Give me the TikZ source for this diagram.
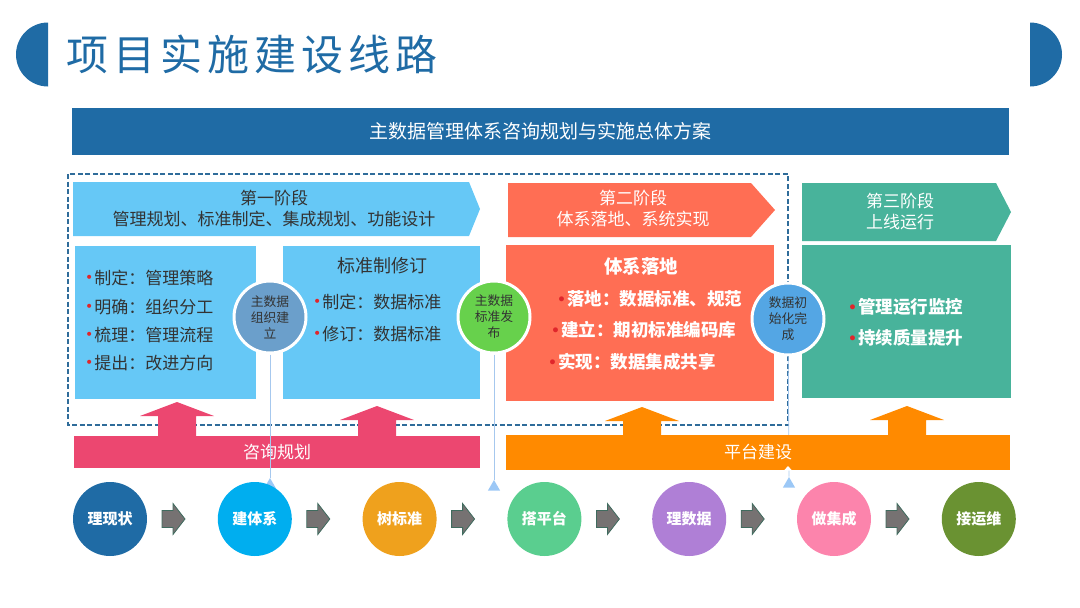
\documentclass[tikz,border=0pt]{standalone}
\usepackage{fontspec}
\setmainfont{Noto Sans CJK SC}
\newfontfamily\dotfont{DejaVu Sans}
\usepackage{tikz}
\usetikzlibrary{
    shapes.geometric,
    calc
}
\definecolor{titleblue}{HTML}{1F6BA5}
\definecolor{skyblue}{HTML}{66C8F6}
\definecolor{coral}{HTML}{FF6E54}
\definecolor{teal}{HTML}{48B39B}
\definecolor{ringa}{HTML}{6B9FCB}
\definecolor{ringb}{HTML}{67D14C}
\definecolor{ringc}{HTML}{54A6E4}
\definecolor{pinkbar}{HTML}{EC4770}
\definecolor{orangebar}{HTML}{FF8A00}
\definecolor{dashblue}{HTML}{2F6C9A}
\definecolor{guideblue}{HTML}{A6C8EE}
\definecolor{tipblue}{HTML}{9CC8F6}
\definecolor{textgray}{HTML}{333333}
\definecolor{dotred}{HTML}{E0262B}
\definecolor{arrowgray}{HTML}{767272}
\definecolor{arrowedge}{HTML}{3F6B5E}
\definecolor{stepa}{HTML}{1F6BA5}
\definecolor{stepb}{HTML}{00AEEF}
\definecolor{stepc}{HTML}{EFA11D}
\definecolor{stepd}{HTML}{5ACE8F}
\definecolor{stepe}{HTML}{AF7FD6}
\definecolor{stepf}{HTML}{FC84AC}
\definecolor{stepg}{HTML}{6A9232}
\newcommand{\rdot}{\raisebox{1.5pt}{\dotfont\fontsize{14}{14}\selectfont\textcolor{dotred}{•}}\hspace{1pt}}
\tikzstyle{ring} = [
    circle,
    draw=white,
    line width=3pt,
    minimum size=72pt,
    inner sep=0pt,
    text=textgray,
    align=center,
    font=\fontsize{12.8}{16}\selectfont
]
\tikzstyle{stepnode} = [
    circle,
    minimum size=74pt,
    inner sep=0pt,
    text=white,
    font=\fontsize{15}{18}\selectfont\bfseries
]
\tikzstyle{item} = [
    anchor=west,
    inner sep=0pt,
    text=textgray,
    font=\fontsize{17}{20}\selectfont
]
\tikzstyle{bolditem} = [
    anchor=west,
    inner sep=0pt,
    text=white,
    font=\fontsize{17.5}{20}\selectfont\bfseries
]
\tikzstyle{phasetext} = [
    align=center,
    inner sep=0pt,
    font=\fontsize{17}{21}\selectfont
]
\tikzstyle{bartext} = [
    inner sep=0pt,
    text=white,
    font=\fontsize{17}{20}\selectfont
]
\tikzstyle{tipmark} = [
    regular polygon,
    regular polygon sides=3,
    minimum size=14pt,
    inner sep=0pt,
    fill=tipblue
]
\tikzstyle{guide} = [
    draw=guideblue,
    line width=0.8pt
]
\tikzstyle{graystep} = [
    fill=arrowgray,
    draw=arrowedge,
    line width=0.8pt
]

\begin{document}
\begin{tikzpicture}[x=1pt, y=-1pt]
        \useasboundingbox (0,0) rectangle (1080,608);

        % Title
        \fill[titleblue] (48,22.5) arc[start angle=-90, end angle=-270, radius=32] -- cycle;
        \fill[titleblue] (1030,22.5) arc[start angle=-90, end angle=90, radius=32] -- cycle;
        \node[anchor=west, inner sep=0pt, text=titleblue,
              font=\fontsize{42}{42}\selectfont\addfontfeatures{LetterSpace=12}] (title) at (66,54) {项目实施建设线路};

        % Banner
        \fill[titleblue] (72,108) rectangle (1009,155);
        \node[bartext, font=\fontsize{19}{20}\selectfont] (banner) at (540,131) {主数据管理体系咨询规划与实施总体方案};

        % Dashed frame
        \draw[dashblue, line width=1.6pt, dash pattern=on 5pt off 2.5pt] (68,174) rectangle (788,425);

        % Phases
        \fill[skyblue] (73,182) -- (469,182) -- (480,209) -- (469,236) -- (73,236) -- cycle;
        \node[phasetext, text=textgray] (ph1) at (274,209) {第一阶段\\管理规划、标准制定、集成规划、功能设计};
        \fill[coral] (508,183) -- (751,183) -- (775,210) -- (751,237) -- (508,237) -- cycle;
        \node[phasetext, text=white] (ph2) at (633,209) {第二阶段\\体系落地、系统实现};
        \fill[teal] (802,183) -- (996,183) -- (1011,212) -- (996,241) -- (802,241) -- cycle;
        \node[phasetext, text=white] (ph3) at (900,212) {第三阶段\\上线运行};

        % Boxes
        \fill[skyblue] (75,246) rectangle (256,399);
        \node[item] (a1) at (85,278) {\rdot 制定：管理策略};
        \node[item] (a2) at (85,307) {\rdot 明确：组织分工};
        \node[item] (a3) at (85,335) {\rdot 梳理：管理流程};
        \node[item] (a4) at (85,363) {\rdot 提出：改进方向};

        \fill[skyblue] (283,246) rectangle (480,399);
        \node[inner sep=0pt, text=textgray, font=\fontsize{18}{20}\selectfont] (btitle) at (382,266) {标准制修订};
        \node[item] (b1) at (313,302) {\rdot 制定：数据标准};
        \node[item] (b2) at (313,334) {\rdot 修订：数据标准};

        \fill[coral] (506,245) rectangle (774,401);
        \node[inner sep=0pt, text=white, font=\fontsize{18.5}{20}\selectfont\bfseries] (ctitle) at (641,266) {体系落地};
        \node[bolditem] (c1) at (557,299) {\rdot 落地：数据标准、规范};
        \node[bolditem] (c2) at (551,330) {\rdot 建立：期初标准编码库};
        \node[bolditem] (c3) at (548,362) {\rdot 实现：数据集成共享};

        \fill[teal] (802,245) rectangle (1011,398);
        \node[bolditem] (d1) at (848,307) {\rdot 管理运行监控};
        \node[bolditem] (d2) at (848,338) {\rdot 持续质量提升};

        % Up arrows
        \foreach \cx/\ty/\col in {177/402/pinkbar, 377/406/pinkbar, 642/407/orangebar, 907/406/orangebar}
            \fill[\col] (\cx-37,\ty+14) -- (\cx,\ty) -- (\cx+37,\ty+14) -- (\cx+19,\ty+14)
                -- (\cx+19,436) -- (\cx-19,436) -- (\cx-19,\ty+14) -- cycle;

        % Milestones
        \node[ring, fill=ringa] (ma) at (270,317) {主数据\\组织建\\立};
        \node[ring, fill=ringb] (mb) at (494,317) {主数据\\标准发\\布};
        \node[ring, fill=ringc] (mc) at (788,319) {数据初\\始化完\\成};
        \node[tipmark] (ta) at (270,485) {};
        \node[tipmark] (tb) at (494,487) {};
        \node[tipmark] (tc) at (789,484) {};
        \draw[guide] (mc) -- (tc.corner 1);

        % Bars
        \fill[pinkbar] (74,436) rectangle (480,468);
        \node[bartext] (zx) at (277,452) {咨询规划};
        \fill[orangebar] (506,435) rectangle (1010,470);
        \node[bartext] (pt) at (758,452) {平台建设};
        \fill[white] (784,470.5) -- (788,466) -- (792,470.5) -- cycle;
        \draw[guide] (ma) -- (ta.corner 1);
        \draw[guide] (mb) -- (tb.corner 1);

        % Route
        \node[stepnode, fill=stepa] (s1) at (110,519) {理现状};
        \node[stepnode, fill=stepb] (s2) at (254.8,519) {建体系};
        \node[stepnode, fill=stepc] (s3) at (399.6,519) {树标准};
        \node[stepnode, fill=stepd] (s4) at (544.4,519) {搭平台};
        \node[stepnode, fill=stepe] (s5) at (689.2,519) {理数据};
        \node[stepnode, fill=stepf] (s6) at (834,519) {做集成};
        \node[stepnode, fill=stepg] (s7) at (978.8,519) {接运维};
        \foreach \i in {1,...,6}
            \filldraw[graystep] ($(s\i.center)+(52,-8.5)$) -- ++(11,0) -- ++(0,-7) -- ++(12,15.5)
                -- ++(-12,15.5) -- ++(0,-7) -- ++(-11,0) -- cycle;
    \end{tikzpicture}
\end{document}
